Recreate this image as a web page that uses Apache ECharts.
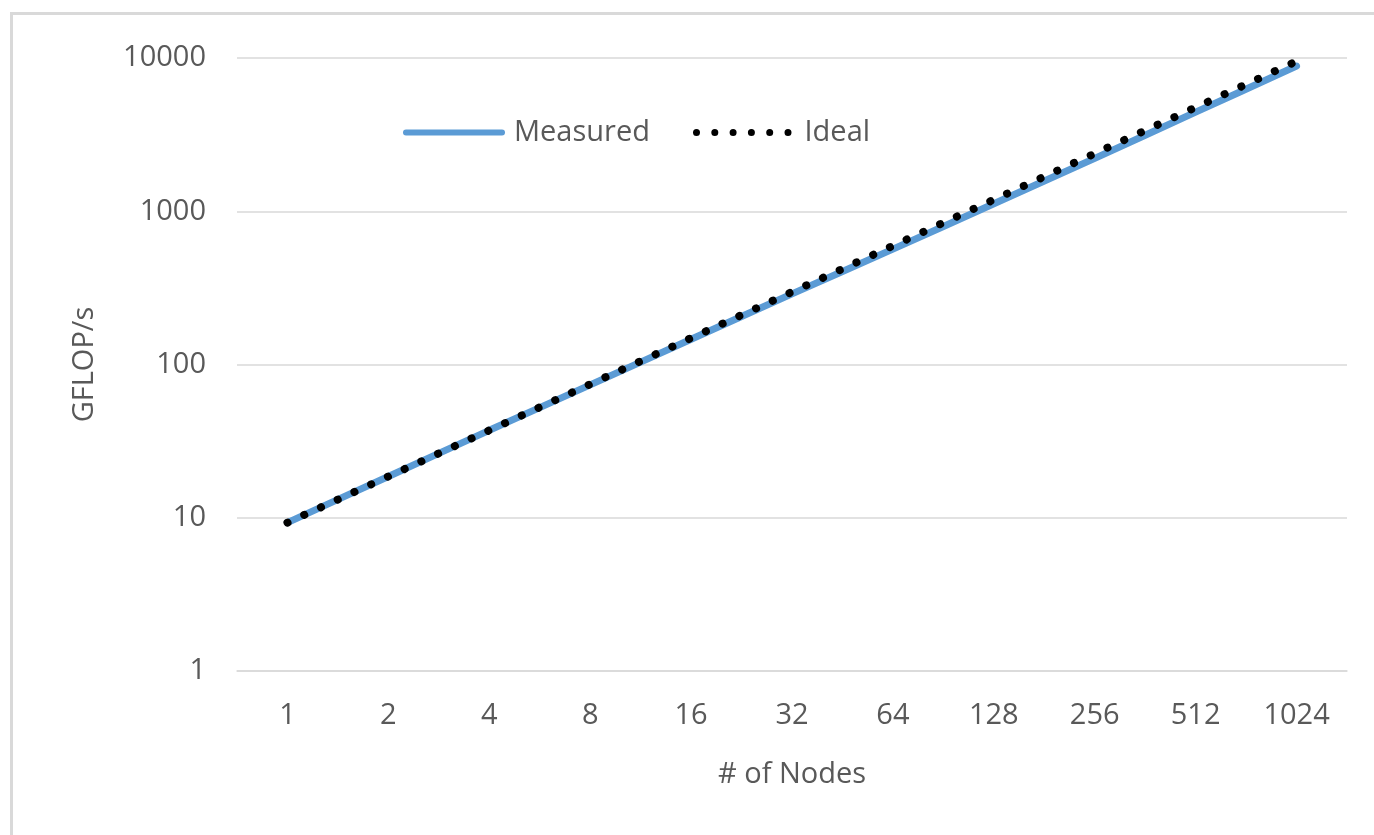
<!DOCTYPE html>
<html>
<head>
<meta charset="utf-8">
<title>GFLOP/s scaling</title>
<script src="https://cdn.jsdelivr.net/npm/echarts@6/dist/echarts.min.js"></script>
<style>
  html, body { margin: 0; padding: 0; background: #ffffff; }
  #frame {
    position: absolute; left: 10px; top: 12px; width: 1400px; height: 900px;
    border-left: 3px solid #d9d9d9; border-top: 3px solid #d9d9d9;
  }
  #chart { position: absolute; left: 0; top: 0; width: 1374px; height: 835px; }
</style>
</head>
<body>
<div id="frame"></div>
<div id="chart"></div>
<script>
// Node counts on the x axis
const nodes = ['1', '2', '4', '8', '16', '32', '64', '128', '256', '512', '1024'];
// Sustained GFLOP/s per node count
const measured = [9.3, 18.6, 37.2, 73.6, 146, 289, 566, 1120, 2215, 4430, 8860];
// Perfect linear scaling from the single-node rate
const ideal = [9.3, 18.6, 37.2, 74.4, 148.8, 297.6, 595.2, 1190.4, 2380.8, 4761.6, 9523.2];

const textColor = '#595959';
const gridColor = '#d9d9d9';
const blue = '#5b9bd5';
const fontFamily = '"Open Sans", "Noto Sans", sans-serif';
const fontSize = 29;

// Legend icons: a rounded bar for the measured line, a row of dots for the ideal line
const barIcon = 'path://M3,0 L99,0 A3,3 0 0 1 99,6 L3,6 A3,3 0 0 1 3,0 Z';
function dotRowIcon(count, r, step) {
  let d = '';
  for (let i = 0; i < count; i++) {
    const cx = r + i * step;
    d += 'M' + (cx - r) + ',' + r + ' A' + r + ',' + r + ' 0 1 0 ' + (cx + r) + ',' + r +
         ' A' + r + ',' + r + ' 0 1 0 ' + (cx - r) + ',' + r + ' Z ';
  }
  return 'path://' + d;
}
const dotsIcon = dotRowIcon(6, 3.5, 18.3);

const legendText = { fontSize: fontSize, color: textColor, fontFamily: fontFamily };

const chart = echarts.init(document.getElementById('chart'), null, { renderer: 'canvas' });

chart.setOption({
  animation: false,
  textStyle: { fontFamily: fontFamily, color: textColor },
  grid: { left: 237, right: 27, top: 58, bottom: 164, containLabel: false },
  legend: [
    {
      left: 398,
      top: 113,
      itemWidth: 102,
      itemHeight: 6,
      textStyle: Object.assign({ padding: [0, 0, 0, 4] }, legendText),
      itemStyle: { color: blue },
      data: [{ name: 'Measured', icon: barIcon }]
    },
    {
      left: 688,
      top: 113,
      itemWidth: 98.5,
      itemHeight: 7,
      textStyle: Object.assign({ padding: [0, 0, 0, 8] }, legendText),
      itemStyle: { color: '#000000' },
      data: [{ name: 'Ideal', icon: dotsIcon }]
    }
  ],
  xAxis: {
    type: 'category',
    data: nodes,
    boundaryGap: true,
    axisLine: { show: true, lineStyle: { color: gridColor, width: 1.5 } },
    axisTick: { show: false },
    axisLabel: { fontSize: fontSize, color: textColor, margin: 30, fontFamily: fontFamily },
    name: '# of Nodes',
    nameLocation: 'middle',
    nameGap: 89,
    nameTextStyle: { fontSize: fontSize, color: textColor, fontFamily: fontFamily }
  },
  yAxis: {
    type: 'log',
    logBase: 10,
    min: 1,
    max: 10000,
    axisLine: { show: false },
    axisTick: { show: false },
    splitLine: { lineStyle: { color: gridColor, width: 1.5 } },
    axisLabel: {
      fontSize: fontSize, color: textColor, margin: 31, fontFamily: fontFamily,
      formatter: function (v) { return String(Math.round(v)); }
    },
    name: 'GFLOP/s',
    nameLocation: 'middle',
    nameRotate: 90,
    nameGap: 138,
    nameTextStyle: { fontSize: fontSize, color: textColor, fontFamily: fontFamily }
  },
  series: [
    {
      name: 'Measured',
      type: 'line',
      data: measured,
      smooth: 0.3,
      symbol: 'none',
      showSymbol: false,
      itemStyle: { color: blue },
      lineStyle: { color: blue, width: 7, cap: 'round' },
      z: 2
    },
    {
      name: 'Ideal',
      type: 'line',
      data: ideal,
      symbol: 'none',
      showSymbol: false,
      itemStyle: { color: '#000000' },
      lineStyle: { color: '#000000', width: 8, type: [0.1, 18.3], cap: 'round' },
      z: 3
    }
  ]
});
</script>
</body>
</html>
